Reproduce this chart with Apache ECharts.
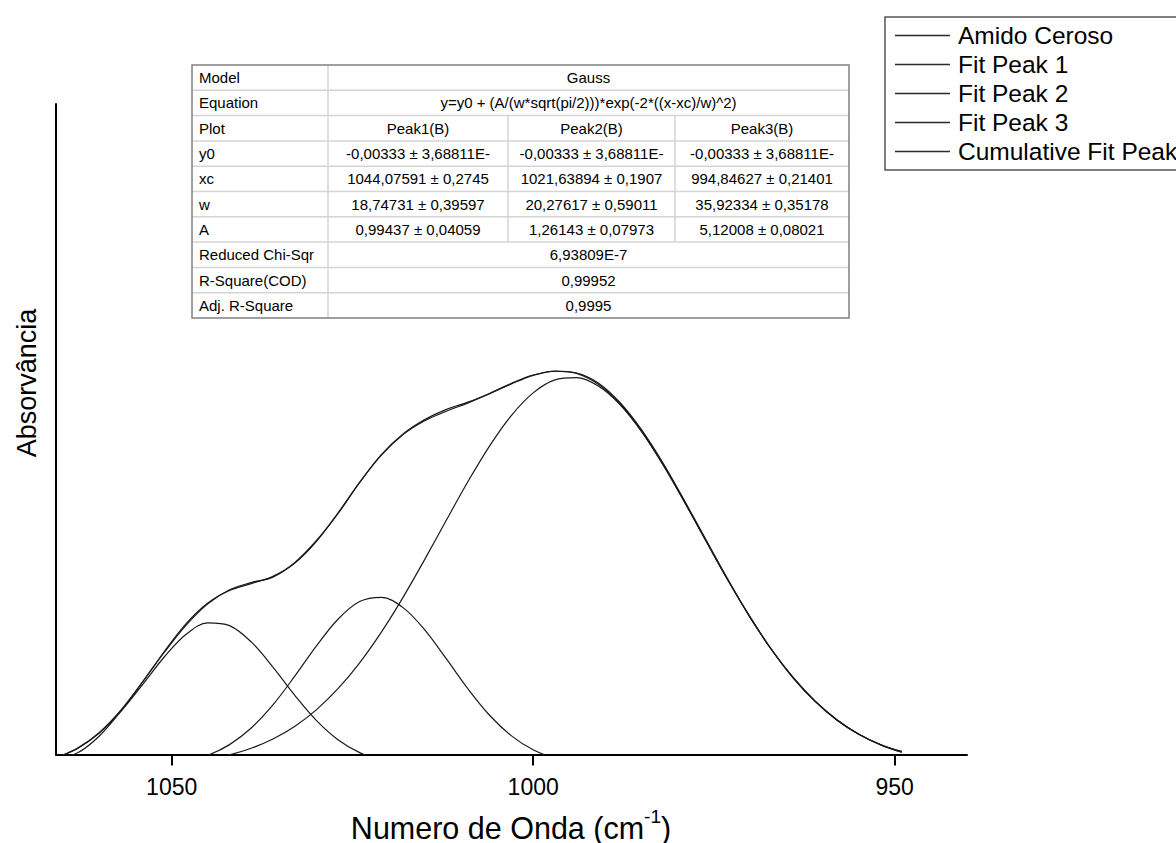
<!DOCTYPE html>
<html>
<head>
<meta charset="utf-8">
<title>Amido Ceroso - ajuste Gauss</title>
<script src="https://cdn.jsdelivr.net/npm/echarts@6/dist/echarts.min.js"></script>
<style>
  html, body { margin: 0; padding: 0; background: #ffffff; }
  #chart { width: 1176px; height: 843px; }
</style>
</head>
<body>
<div id="chart"></div>
<script>
// Wavenumber grid (cm-1) shared by every curve
const wavenumber = [1066, 1063, 1060, 1057, 1054, 1051, 1048, 1045, 1042, 1039,
  1036, 1033, 1030, 1027, 1024, 1021, 1018, 1015, 1012, 1009,
  1006, 1003, 1000, 997, 994, 991, 988, 985, 982, 979,
  976, 973, 970, 967, 964, 961, 958, 955, 952, 949];

// Measured absorbance
const amidoCeroso = [-0.0008, 0.0009, 0.0058, 0.0131, 0.0216, 0.0302, 0.0381, 0.0443, 0.0484, 0.0505,
  0.0521, 0.0563, 0.0627, 0.0706, 0.0797, 0.0878, 0.0938, 0.0980, 0.1010, 0.1031,
  0.1057, 0.1086, 0.1110, 0.1121, 0.1116, 0.1087, 0.1030, 0.0950, 0.0852, 0.0741,
  0.0626, 0.0512, 0.0405, 0.0309, 0.0226, 0.0158, 0.0104, 0.0063, 0.0033, 0.0013];

// Fitted Gaussian components (baseline y0 included)
const fitPeak1 = [-0.00058, 0.00218, 0.00667, 0.01303, 0.02083, 0.02889, 0.03544, 0.03879, 0.03797, 0.03322,
  0.02587, 0.01773, 0.01037, 0.00472, 0.00094, -0.00129, -0.00245, -0.00299, -0.00321, -0.00329,
  -0.00332, -0.00333, -0.00333, -0.00333, -0.00333, -0.00333, -0.00333, -0.00333, -0.00333, -0.00333,
  -0.00333, -0.00333, -0.00333, -0.00333, -0.00333, -0.00333, -0.00333, -0.00333, -0.00333, -0.00333];

const fitPeak2 = [-0.00333, -0.00332, -0.00329, -0.00322, -0.00303, -0.00258, -0.00164, 0.00016, 0.00328, 0.00813,
  0.01487, 0.02316, 0.03200, 0.03983, 0.04498, 0.04621, 0.04321, 0.03673, 0.02826, 0.01949,
  0.01177, 0.00583, 0.00176, -0.00074, -0.00212, -0.00281, -0.00313, -0.00326, -0.00331, -0.00332,
  -0.00333, -0.00333, -0.00333, -0.00333, -0.00333, -0.00333, -0.00333, -0.00333, -0.00333, -0.00333];

const fitPeak3 = [-0.00329, -0.00325, -0.00317, -0.00305, -0.00283, -0.00247, -0.00190, -0.00102, 0.00030, 0.00221,
  0.00491, 0.00858, 0.01342, 0.01958, 0.02713, 0.03607, 0.04621, 0.05727, 0.06874, 0.08004,
  0.09045, 0.09926, 0.10580, 0.10958, 0.11026, 0.10781, 0.10242, 0.09453, 0.08473, 0.07373,
  0.06225, 0.05095, 0.04036, 0.03086, 0.02270, 0.01594, 0.01054, 0.00638, 0.00328, 0.00105];

const cumulativeFit = [-0.00054, 0.00228, 0.00686, 0.01343, 0.02164, 0.03049, 0.03856, 0.04458, 0.04820, 0.05021,
  0.05231, 0.05613, 0.06246, 0.07079, 0.07971, 0.08765, 0.09364, 0.09767, 0.10045, 0.10290,
  0.10556, 0.10842, 0.11089, 0.11216, 0.11147, 0.10833, 0.10263, 0.09460, 0.08475, 0.07374,
  0.06225, 0.05095, 0.04036, 0.03086, 0.02270, 0.01594, 0.01054, 0.00638, 0.00328, 0.00105];

const seriesNames = ['Amido Ceroso', 'Fit Peak 1', 'Fit Peak 2', 'Fit Peak 3', 'Cumulative Fit Peak'];
const xTicks = [950, 1000, 1050];

// Fit report table
const tableLabels = ['Model', 'Equation', 'Plot', 'y0', 'xc', 'w', 'A',
  'Reduced Chi-Sqr', 'R-Square(COD)', 'Adj. R-Square'];
const modelName = 'Gauss';
const equationText = 'y=y0 + (A/(w*sqrt(pi/2)))*exp(-2*((x-xc)/w)^2)';
const peakNames = ['Peak1(B)', 'Peak2(B)', 'Peak3(B)'];
const y0Text = ['-0,00333 ± 3,68811E-', '-0,00333 ± 3,68811E-', '-0,00333 ± 3,68811E-'];
const xcText = ['1044,07591 ± 0,2745', '1021,63894 ± 0,1907', '994,84627 ± 0,21401'];
const wText = ['18,74731 ± 0,39597', '20,27617 ± 0,59011', '35,92334 ± 0,35178'];
const aText = ['0,99437 ± 0,04059', '1,26143 ± 0,07973', '5,12008 ± 0,08021'];
const chiText = '6,93809E-7';
const r2Text = '0,99952';
const adjR2Text = '0,9995';

const FONT = "'Liberation Sans', Arial, Helvetica, sans-serif";

function pairs(values) {
  return wavenumber.map((x, i) => [x, values[i]]);
}

function lineSeries(name, values, z) {
  return {
    name: name,
    type: 'line',
    data: pairs(values),
    symbol: 'none',
    showSymbol: false,
    smooth: 0.35,
    clip: true,
    z: z,
    lineStyle: { color: '#1a1a1a', width: 1.2 },
    itemStyle: { color: '#1a1a1a' },
    emphasis: { disabled: true },
    silent: true
  };
}

// ---- fit report table drawn as graphic elements ----
function buildTable() {
  const colX = [192, 328, 508, 675, 849];
  const top = 65;
  const rowH = 25.3;
  const nRows = tableLabels.length;
  const bottom = top + nRows * rowH;
  const els = [];
  const cellText = (t, x, y, align) => ({
    type: 'text',
    x: x, y: y,
    style: { text: t, fill: '#000', font: '15px ' + FONT, align: align, verticalAlign: 'middle' },
    silent: true
  });
  els.push({ type: 'rect', shape: { x: colX[0], y: top, width: colX[4] - colX[0], height: bottom - top },
    style: { fill: '#ffffff', stroke: null }, silent: true });
  for (let r = 1; r < nRows; r++) {
    const y = top + r * rowH;
    els.push({ type: 'line', shape: { x1: colX[0], y1: y, x2: colX[4], y2: y },
      style: { stroke: '#d4d4d4', lineWidth: 1.5 }, silent: true });
  }
  els.push({ type: 'line', shape: { x1: colX[1], y1: top, x2: colX[1], y2: bottom },
    style: { stroke: '#d4d4d4', lineWidth: 1.5 }, silent: true });
  [colX[2], colX[3]].forEach(x => {
    els.push({ type: 'line', shape: { x1: x, y1: top + 2 * rowH, x2: x, y2: top + 7 * rowH },
      style: { stroke: '#d4d4d4', lineWidth: 1.5 }, silent: true });
  });
  els.push({ type: 'rect', shape: { x: colX[0], y: top, width: colX[4] - colX[0], height: bottom - top },
    style: { fill: null, stroke: '#808080', lineWidth: 1.5 }, silent: true });

  const rowY = r => top + (r + 0.5) * rowH;
  tableLabels.forEach((t, r) => els.push(cellText(t, colX[0] + 7, rowY(r), 'left')));
  const spanCx = (colX[1] + colX[4]) / 2;
  els.push(cellText(modelName, spanCx, rowY(0), 'center'));
  els.push(cellText(equationText, spanCx, rowY(1), 'center'));
  [peakNames, y0Text, xcText, wText, aText].forEach((arr, k) => {
    arr.forEach((t, c) => {
      const cx = (colX[c + 1] + colX[c + 2]) / 2;
      els.push(cellText(t, cx, rowY(k + 2), 'center'));
    });
  });
  els.push(cellText(chiText, spanCx, rowY(7), 'center'));
  els.push(cellText(r2Text, spanCx, rowY(8), 'center'));
  els.push(cellText(adjR2Text, spanCx, rowY(9), 'center'));
  return els;
}

const chart = echarts.init(document.getElementById('chart'), null, { renderer: 'svg' });

const option = {
  backgroundColor: '#ffffff',
  animation: false,
  textStyle: { fontFamily: FONT },
  grid: { left: 56, right: 209, top: 104, bottom: 88.5, containLabel: false },
  legend: {
    orient: 'vertical',
    left: 885,
    top: 17,
    padding: [6, 10, 6, 10],
    itemGap: 4,
    itemWidth: 55,
    itemHeight: 1.4,
    icon: 'rect',
    itemStyle: { color: '#2a2a2a', borderWidth: 0 },
    borderColor: '#555555',
    borderWidth: 1.5,
    selectedMode: false,
    data: seriesNames,
    textStyle: { fontFamily: FONT, fontSize: 24.5, color: '#000', lineHeight: 24.3, padding: [0, 0, 0, 3] }
  },
  xAxis: {
    type: 'value',
    inverse: true,
    min: 940,
    max: 1066,
    axisLine: { show: true, onZero: false, lineStyle: { color: '#000', width: 2 } },
    axisTick: { show: true, inside: false, length: 11, customValues: xTicks,
      lineStyle: { color: '#000', width: 2 } },
    axisLabel: { show: true, customValues: xTicks, margin: 21, fontSize: 23, color: '#000',
      fontFamily: FONT, formatter: v => String(v) },
    splitLine: { show: false }
  },
  yAxis: {
    type: 'value',
    min: 0.0004,
    max: 0.19,
    axisLine: { show: true, onZero: false, lineStyle: { color: '#000', width: 2 } },
    axisTick: { show: false },
    axisLabel: { show: false },
    splitLine: { show: false }
  },
  series: [
    lineSeries(seriesNames[0], amidoCeroso, 5),
    lineSeries(seriesNames[1], fitPeak1, 4),
    lineSeries(seriesNames[2], fitPeak2, 4),
    lineSeries(seriesNames[3], fitPeak3, 4),
    lineSeries(seriesNames[4], cumulativeFit, 4)
  ],
  graphic: [
    {
      type: 'group',
      silent: true,
      children: buildTable()
    },
    {
      type: 'text',
      x: 511, y: 825,
      silent: true,
      style: {
        text: '{a|Numero de Onda (cm}{s|-1}{a|)}',
        align: 'center',
        verticalAlign: 'middle',
        rich: {
          a: { fontFamily: FONT, fontSize: 30.5, fill: '#000', verticalAlign: 'bottom', lineHeight: 36 },
          s: { fontFamily: FONT, fontSize: 19, fill: '#000', verticalAlign: 'top', lineHeight: 36 }
        }
      }
    },
    {
      type: 'text',
      x: 27, y: 383,
      rotation: Math.PI / 2,
      silent: true,
      style: {
        text: 'Absorvância',
        fill: '#000',
        font: '27px ' + FONT,
        align: 'center',
        verticalAlign: 'middle'
      }
    }
  ]
};

chart.setOption(option);
</script>
</body>
</html>
